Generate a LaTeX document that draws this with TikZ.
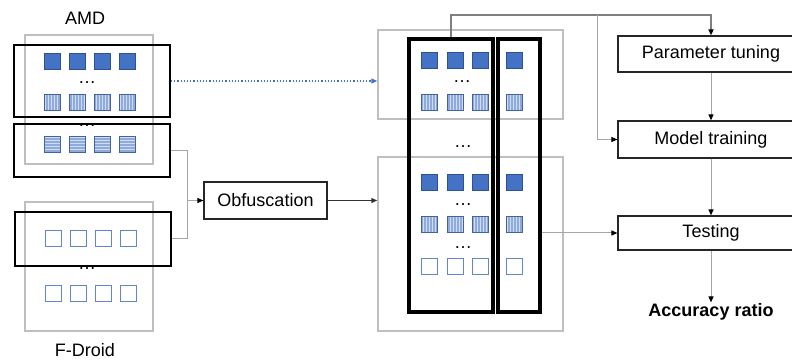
\documentclass[tikz,border=0pt]{standalone}
\usepackage{fontspec}
\setmainfont{Liberation Sans}
\usetikzlibrary{arrows.meta,patterns}
\definecolor{sqblue}{HTML}{4472C4}
\definecolor{sqedge}{HTML}{2F528F}
\definecolor{panel}{HTML}{BFBFBF}
\definecolor{wire}{HTML}{A6A6A6}
\definecolor{feed}{HTML}{7F7F7F}

\begin{document}
\begin{tikzpicture}[x=1pt, y=-1pt, every node/.style={font=\fontsize{18}{21}\selectfont},
    panelbox/.style={draw=panel, line width=1.5pt, inner sep=0},
    selbox/.style={draw=black, line width=2pt, inner sep=0},
    colbox/.style={draw=black, line width=3.5pt, inner sep=0},
    stepbox/.style={draw=black!85, line width=1.2pt, inner sep=0, minimum height=36},
    sq/.style={minimum size=16, inner sep=0, line width=1pt},
    solidsq/.style={sq, draw=sqedge, fill=sqblue},
    vsq/.style={sq, draw=sqedge!90, preaction={fill=sqblue!60}, pattern=vertical lines, pattern color=white!75!sqblue},
    hsq/.style={sq, draw=sqedge!90, preaction={fill=sqblue!60}, pattern=horizontal lines, pattern color=white!75!sqblue},
    emptysq/.style={sq, draw=sqblue!85!white, fill=white},
    wire/.style={draw=wire, line width=1pt, -{Triangle[length=6pt, width=5pt, color=black]}},
    >={Triangle[length=6pt, width=5pt]}]

    \useasboundingbox (0,0) rectangle (792,363);

    % data sets
    \node[panelbox, minimum width=128, minimum height=129] (amd) at (89, 99.5) {};
    \node[panelbox, minimum width=128, minimum height=129] (fdroid) at (89, 266.5) {};
    \node (amdlbl) at (85, 18) {AMD};
    \node (fdlbl) at (85, 350) {F-Droid};

    \foreach \i in {0,...,3} {
      \node[solidsq] (a1\i) at ({52+25.3*\i}, 62) {};
      \node[vsq] (a2\i) at ({52+25.3*\i}, 103) {};
      \node[hsq] (a3\i) at ({52+25.3*\i}, 145) {};
      \node[emptysq] (f1\i) at ({53+25.3*\i}, 239) {};
      \node[emptysq] (f2\i) at ({53+25.3*\i}, 293) {};
    }
    \node (d1) at (87, 83) {\dots};
    \node (d2) at (87, 126) {\dots};
    \node (d3) at (87, 269) {\dots};

    \node[selbox, minimum width=156, minimum height=72] (sel1) at (92, 81) {};
    \node[selbox, minimum width=156, minimum height=53] (sel2) at (92, 150.5) {};
    \node[selbox, minimum width=156, minimum height=54] (sel3) at (93, 239) {};

    \node[stepbox, minimum width=123, minimum height=37] (obf) at (265.5, 200.5) {Obfuscation};

    % training / testing sets
    \node[panelbox, minimum width=185, minimum height=89] (topset) at (470.5, 74.5) {};
    \node[panelbox, minimum width=185, minimum height=174] (botset) at (470.5, 244) {};

    \foreach \x [count=\k] in {429,455,480,514} {
      \node[solidsq] (t1\k) at (\x, 61) {};
      \node[vsq] (t2\k) at (\x, 103) {};
      \node[solidsq] (b1\k) at (\x, 183) {};
      \node[vsq] (b2\k) at (\x, 225) {};
      \node[emptysq] (b3\k) at (\x, 267) {};
    }
    \node (d4) at (462, 82) {\dots};
    \node (d5) at (463, 147) {\dots};
    \node (d6) at (463, 205) {\dots};
    \node (d7) at (463, 248) {\dots};

    \node[colbox, minimum width=84, minimum height=273] (colA) at (451, 175.5) {};
    \node[colbox, minimum width=42, minimum height=273] (colB) at (519, 175.5) {};

    % steps
    \node[stepbox, minimum width=186] (tune) at (711, 54) {Parameter tuning};
    \node[stepbox, minimum width=186, minimum height=37] (train) at (711, 139.5) {Model training};
    \node[stepbox, minimum width=186, minimum height=34] (test) at (711, 233) {Testing};
    \node[font=\fontsize{18}{21}\selectfont\bfseries, inner sep=1pt] (acc) at (711, 312) {Accuracy ratio};

    \coordinate (j1) at (187, 200.5);
    \coordinate (top) at (451, 15);
    \coordinate (br) at (597, 15);

    \draw[draw=wire, line width=1pt] (sel2.east) -| (j1);
    \draw[draw=wire, line width=1pt] (sel3.east) -| (j1);
    \draw[wire] (j1) -- (obf.west);
    \draw[draw=black!80, line width=1pt, ->] (obf.east) -- (obf.east -| botset.west);
    \draw[draw=sqblue, dotted, line width=1.2pt, ->] (sel1.east) -- (sel1.east -| topset.west);

    \draw[draw=feed, line width=1.5pt, -{Triangle[length=6pt, width=5pt, color=black]}] (colA.north) -- (top) -| (tune.north);
    \draw[wire] (br) |- (train.west);
    \draw[wire] (tune) -- (train);
    \draw[wire] (train) -- (test);
    \draw[wire] (test) -- (acc);
    \draw[wire] (colB.east |- test.west) -- (test.west);
\end{tikzpicture}
\end{document}
